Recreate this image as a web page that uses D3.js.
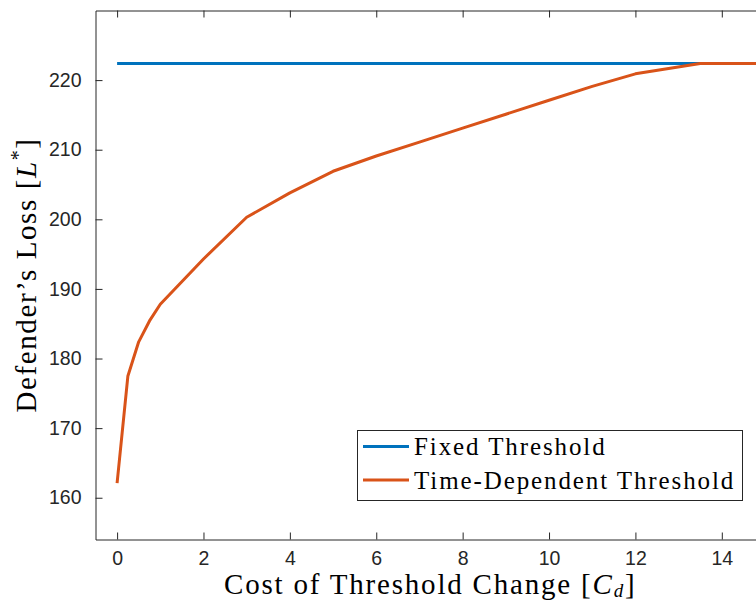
<!DOCTYPE html>
<html>
<head>
<meta charset="utf-8">
<script src="https://cdn.jsdelivr.net/npm/d3@7"></script>
<style>
  html, body { margin: 0; padding: 0; background: #fff; }
  svg { display: block; }
</style>
</head>
<body>
<svg id="chart" width="756" height="600"></svg>
<script>
// Cost of threshold change (C_d) and defender's loss for each strategy
const costs = [0, 0.25, 0.5, 0.75, 1, 2, 3, 4, 5, 6, 7, 8, 9, 10, 11, 12, 13.5, 15];
const fixedLoss = [222.4, 222.4, 222.4, 222.4, 222.4, 222.4, 222.4, 222.4, 222.4, 222.4, 222.4, 222.4, 222.4, 222.4, 222.4, 222.4, 222.4, 222.4];
const timeDepLoss = [162.1, 177.5, 182.4, 185.4, 187.8, 194.3, 200.3, 203.8, 206.9, 209.1, 211.1, 213.1, 215.1, 217.1, 219.1, 220.9, 222.4, 222.4];
const xTicks = [0, 2, 4, 6, 8, 10, 12, 14];
const yTicks = [160, 170, 180, 190, 200, 210, 220];
const seriesNames = ["Fixed Threshold", "Time-Dependent Threshold"];
const seriesColors = ["#0072BD", "#D95319"];

const svg = d3.select("#chart");
const pL = 95.5, pR = 765, pT = 10.5, pB = 539.5;

const x = d3.scaleLinear().domain([-0.5, 15]).range([pL, pR]);
const y = d3.scaleLinear().domain([154, 230]).range([pB, pT]);

const axisColor = "#262626";
const tickFont = "Liberation Sans, Arial, Helvetica, sans-serif";
const serif = "Liberation Serif, 'Times New Roman', serif";

// plot lines
const line = d3.line().x((d, i) => x(costs[i])).y(d => y(d));
svg.append("clipPath").attr("id", "plotclip")
  .append("rect").attr("x", pL).attr("y", pT).attr("width", pR - pL).attr("height", pB - pT);

const plot = svg.append("g").attr("clip-path", "url(#plotclip)");
[fixedLoss, timeDepLoss].forEach((vals, k) => {
  plot.append("path")
    .datum(vals)
    .attr("d", line)
    .attr("fill", "none")
    .attr("stroke", seriesColors[k])
    .attr("stroke-width", 3)
    .attr("stroke-linejoin", "round");
});

// axes (box with inward ticks)
const tickLen = 7;
const xAxisB = d3.axisBottom(x).tickValues(xTicks).tickSizeInner(-tickLen).tickSizeOuter(0).tickPadding(12);
const xAxisT = d3.axisTop(x).tickValues(xTicks).tickSizeInner(-tickLen).tickSizeOuter(0).tickFormat("");
const yAxisL = d3.axisLeft(y).tickValues(yTicks).tickSizeInner(-tickLen).tickSizeOuter(0).tickPadding(14);

function styleAxis(g) {
  g.select(".domain").attr("stroke", axisColor).attr("stroke-width", 1);
  g.selectAll(".tick line").attr("stroke", axisColor).attr("stroke-width", 1);
  g.selectAll(".tick text").attr("fill", axisColor).style("font-family", tickFont).style("font-size", "19.5px");
}

svg.append("g").attr("transform", `translate(0,${pB})`).call(xAxisB).call(styleAxis);
svg.append("g").attr("transform", `translate(0,${pT})`).call(xAxisT).call(styleAxis);
svg.append("g").attr("transform", `translate(${pL},0)`).call(yAxisL).call(styleAxis);
svg.append("line").attr("x1", pR).attr("x2", pR).attr("y1", pT).attr("y2", pB)
  .attr("stroke", axisColor);

// x label
const xl = svg.append("text")
  .attr("x", (pL + pR) / 2).attr("y", 593.5)
  .attr("text-anchor", "middle")
  .style("font-family", serif).style("font-size", "29px").style("letter-spacing", "1.8px").attr("fill", "#000");
xl.append("tspan").text("Cost of Threshold Change [");
xl.append("tspan").attr("font-style", "italic").text("C");
xl.append("tspan").attr("font-style", "italic").attr("font-size", "19px").attr("dy", 3).text("d");
xl.append("tspan").attr("dy", -3).text("]");

// y label
const yl = svg.append("text")
  .attr("transform", `translate(36,${(pT + pB) / 2}) rotate(-90)`)
  .attr("text-anchor", "middle")
  .style("font-family", serif).style("font-size", "29px").style("letter-spacing", "1.6px").attr("fill", "#000");
yl.append("tspan").text("Defender\u2019s Loss [");
yl.append("tspan").attr("font-style", "italic").text("L");
yl.append("tspan").attr("font-size", "20px").attr("dy", -11).text("*");
yl.append("tspan").attr("dy", 11).text("]");

// legend
const lg = svg.append("g");
lg.append("rect").attr("x", 357.5).attr("y", 430.5).attr("width", 385).attr("height", 70)
  .attr("fill", "#fff").attr("stroke", axisColor).attr("stroke-width", 1);
seriesNames.forEach((name, k) => {
  const cy = 446.5 + k * 33.5;
  lg.append("line").attr("x1", 363).attr("x2", 409).attr("y1", cy).attr("y2", cy)
    .attr("stroke", seriesColors[k]).attr("stroke-width", 3);
  lg.append("text").attr("x", 414).attr("y", cy + 8.5)
    .style("font-family", serif).style("font-size", "25px").style("letter-spacing", "1.9px").attr("fill", "#000")
    .text(name);
});
</script>
</body>
</html>
